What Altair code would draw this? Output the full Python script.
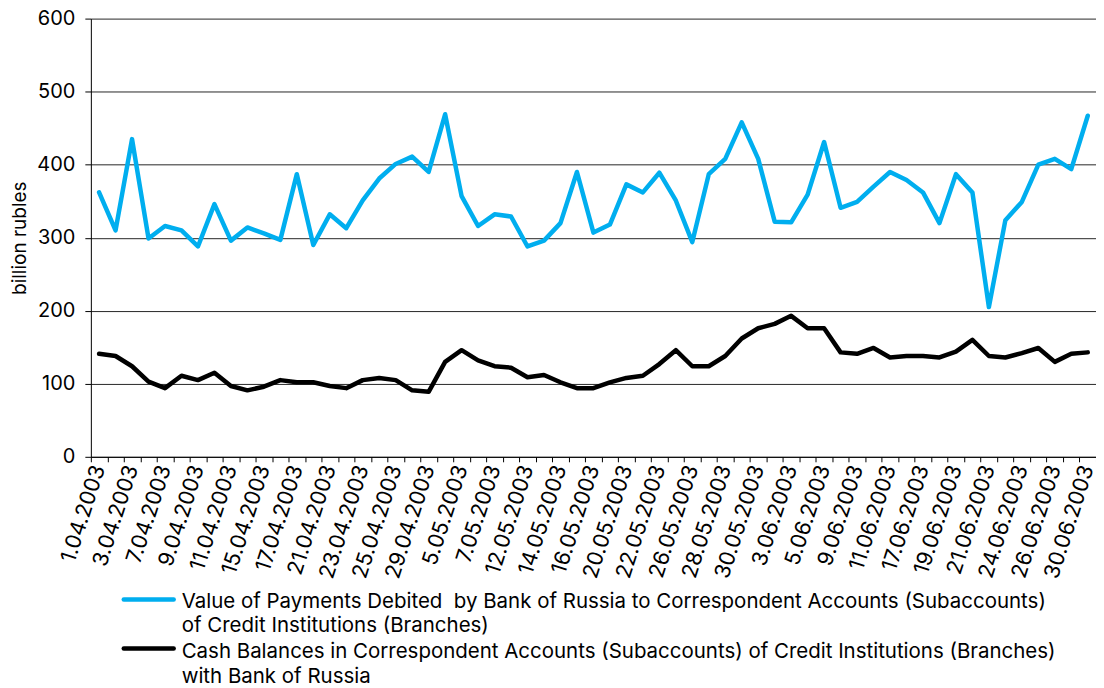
import json
import altair as alt
import pandas as pd

# ---- data ----
april = [1, 2, 3, 4, 7, 8, 9, 10, 11, 14, 15, 16, 17, 18, 21, 22, 23, 24, 25, 28, 29, 30]
may = [5, 6, 7, 8, 12, 13, 14, 15, 16, 19, 20, 21, 22, 23, 26, 27, 28, 29, 30]
june = [2, 3, 4, 5, 6, 9, 10, 11, 16, 17, 18, 19, 20, 21, 23, 24, 25, 26, 27, 30]
dates = ([f"{d}.04.2003" for d in april] + [f"{d}.05.2003" for d in may]
         + [f"{d}.06.2003" for d in june])

payments = [362, 310, 435, 299, 316, 310, 288, 346, 296, 314, 306, 297, 387, 290, 332, 313,
            351, 381, 401, 411, 390, 469, 357, 316, 332, 329, 288, 296, 320, 390, 307, 318,
            373, 362, 389, 351, 294, 387, 408, 458, 408, 322, 321, 359, 431, 341, 349, 370,
            390, 379, 362, 320, 387, 362, 205, 324, 349, 400, 408, 394, 467]
balances = [141, 138, 124, 103, 94, 111, 105, 115, 97, 91, 96, 105, 102, 102, 97, 94,
            105, 108, 105, 91, 89, 130, 146, 132, 124, 122, 109, 112, 102, 94, 94, 102,
            108, 111, 127, 146, 124, 124, 138, 162, 176, 182, 193, 176, 176, 143, 141, 149,
            136, 138, 138, 136, 144, 160, 138, 136, 142, 149, 130, 141, 143]

series_names = ["Payments", "Balances"]
legend_lines = [
    ["Value of Payments Debited\u00a0 by Bank of Russia to Correspondent Accounts (Subaccounts)",
     "of Credit Institutions (Branches)"],
    ["Cash Balances in Correspondent Accounts (Subaccounts) of Credit Institutions (Branches)",
     "with Bank of Russia"],
]
y_ticks = [0, 100, 200, 300, 400, 500, 600]
colors = ["#00AEEF", "#000000"]

FONT = "Inter"
FS = 20

df = pd.DataFrame({
    "date": dates * 2,
    "series": [series_names[0]] * len(dates) + [series_names[1]] * len(dates),
    "value": payments + balances,
})

label_expr = ("indexof(" + json.dumps(dates) + ", datum.value) % 2 == 0 ? datum.label : ''")

lines = alt.Chart(df).mark_line(strokeWidth=4.5, strokeJoin="round", strokeCap="round").encode(
    x=alt.X("date:O", sort=dates,
            scale=alt.Scale(type="band", paddingInner=0, paddingOuter=0),
            axis=alt.Axis(title=None, labelAngle=-72, labelAlign="right", labelBaseline="middle",
                          labelFontSize=21.5, labelFont=FONT, labelColor="#000",
                          labelPadding=4, tickBand="extent", tickSize=5, tickColor="#000",
                          domainColor="#000", labelExpr=label_expr, labelOverlap=False,
                          grid=False)),
    y=alt.Y("value:Q", scale=alt.Scale(domain=[0, 600], nice=False),
            axis=alt.Axis(values=y_ticks, title="billion rubles", titleFontSize=19,
                          titleFont=FONT, titleFontWeight="normal", titleColor="#000",
                          titleX=-65, titleBaseline="alphabetic",
                          labelFontSize=FS, labelFont=FONT, labelColor="#000", labelPadding=10,
                          tickSize=6, tickColor="#000", domainColor="#000",
                          grid=True, gridColor="#000", gridOpacity=0.85)),
    color=alt.Color("series:N", scale=alt.Scale(domain=series_names, range=colors), legend=None),
    detail="series:N",
)

one = pd.DataFrame({"k": [0]})
legend_layers = []
for i in range(2):
    ypos = 582 + i * 49
    legend_layers.append(
        alt.Chart(one).mark_rule(strokeWidth=4.5, strokeCap="round", color=colors[i]).encode(
            x=alt.value(33), x2=alt.value(83), y=alt.value(ypos)))
    legend_layers.append(
        alt.Chart(one).mark_text(align="left", baseline="alphabetic", font=FONT, fontSize=20.5,
                                 lineHeight=25, color="#000").encode(
            x=alt.value(91), y=alt.value(590 + i * 51), text=alt.value(legend_lines[i])))

chart = alt.layer(lines, *legend_layers).properties(
    width=1007, height=439,
    padding={"left": 83, "top": 10, "right": 0, "bottom": 230},
    autosize=alt.AutoSizeParams(type="none"),
).configure_view(stroke=None).configure_axis(domainWidth=1, tickWidth=1, gridWidth=1)

chart.save("out.html", embed_options={"renderer": "svg", "actions": False})
